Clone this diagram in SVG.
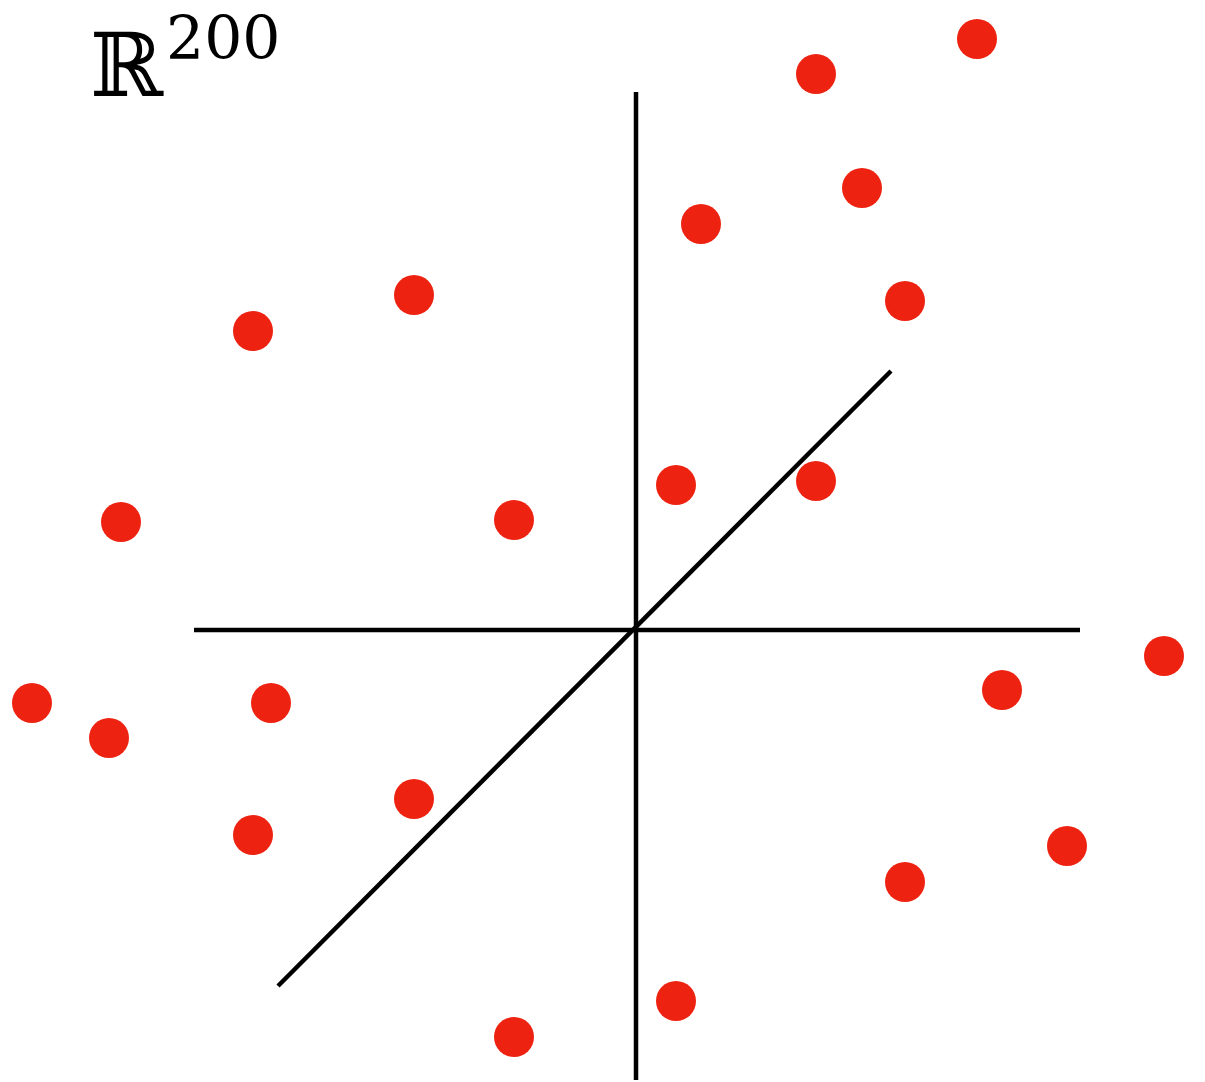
<svg xmlns="http://www.w3.org/2000/svg" width="1205" height="1082" viewBox="0 0 1205 1082">
<style>
.ax{stroke:#000;stroke-width:4.5;fill:none}
.pt{fill:#EE2211}
.lbl{font-family:"DejaVu Serif","Liberation Serif",serif;fill:#000}
</style>
<rect width="1205" height="1082" fill="#fff"/>
<g id="axes">
<line class="ax" x1="636" y1="92" x2="636" y2="1080"/>
<line class="ax" x1="194" y1="630" x2="1080" y2="630"/>
<line class="ax" x1="278" y1="986" x2="891" y2="371"/>
</g>
<g id="points">
<circle class="pt" cx="977" cy="39" r="20"/>
<circle class="pt" cx="816" cy="74" r="20"/>
<circle class="pt" cx="862" cy="188" r="20"/>
<circle class="pt" cx="701" cy="224" r="20"/>
<circle class="pt" cx="905" cy="301" r="20"/>
<circle class="pt" cx="414" cy="295" r="20"/>
<circle class="pt" cx="253" cy="331" r="20"/>
<circle class="pt" cx="121" cy="522" r="20"/>
<circle class="pt" cx="514" cy="520" r="20"/>
<circle class="pt" cx="676" cy="485" r="20"/>
<circle class="pt" cx="816" cy="481" r="20"/>
<circle class="pt" cx="1164" cy="656" r="20"/>
<circle class="pt" cx="1002" cy="690" r="20"/>
<circle class="pt" cx="32" cy="703" r="20"/>
<circle class="pt" cx="109" cy="738" r="20"/>
<circle class="pt" cx="271" cy="703" r="20"/>
<circle class="pt" cx="414" cy="799" r="20"/>
<circle class="pt" cx="253" cy="835" r="20"/>
<circle class="pt" cx="1067" cy="846" r="20"/>
<circle class="pt" cx="905" cy="882" r="20"/>
<circle class="pt" cx="676" cy="1001" r="20"/>
<circle class="pt" cx="514" cy="1037" r="20"/>
</g>
<g id="label">
<text class="lbl" x="90" y="96" font-size="88">ℝ</text>
<text class="lbl" x="166" y="59" font-size="60" font-family="Liberation Serif">200</text>
</g>
</svg>
